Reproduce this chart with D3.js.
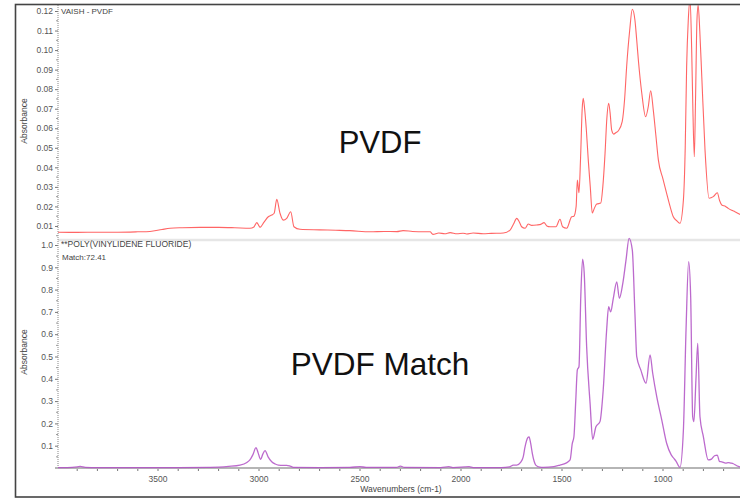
<!DOCTYPE html>
<html>
<head>
<meta charset="utf-8">
<script src="https://cdn.jsdelivr.net/npm/d3@7"></script>
<style>
  html, body { margin: 0; padding: 0; background: #fff; }
  svg { display: block; font-family: "Liberation Sans", Arial, sans-serif; }
</style>
</head>
<body>
<svg id="chart" width="740" height="499"></svg>
<script>
// sample spectrum (VAISH - PVDF), wavenumber in cm-1 / absorbance
var sampleWave = [4000,3900,3800,3700,3600,3540,3480,3440,3380,3292,3200,3120,3045,3025,3011,3000,2995,2975,2954,2937,2925,2912,2896,2880,2863,2843,2827,2797,2700,2620,2550,2450,2380,2318,2287,2240,2190,2153,2139,2110,2080,2054,2020,1990,1972,1940,1890,1850,1790,1757,1740,1724,1710,1700,1683,1667,1650,1625,1605,1589,1575,1559,1530,1510,1497,1477,1452,1441,1430,1424,1416,1408,1400,1395,1388,1380,1370,1360,1350,1340,1328,1308,1298,1287,1278,1269,1262,1254,1244,1234,1221,1202,1190,1180,1165,1152,1139,1130,1122,1105,1086,1073,1061,1048,1035,1023,1000,982,965,949,930,916,899,890,883,875,866,858,853,845,839,832,826,818,808,792,772,751,731,720,709,690,677,660,644,620,600];
var sampleAbs = [0.0068,0.0067,0.0068,0.0068,0.0070,0.0072,0.0082,0.0088,0.0091,0.0093,0.0093,0.0091,0.0088,0.0095,0.0117,0.0100,0.0093,0.0120,0.0147,0.0156,0.0165,0.0236,0.0165,0.0130,0.0139,0.0173,0.0096,0.0083,0.0080,0.0078,0.0076,0.0070,0.0072,0.0071,0.0076,0.0072,0.0070,0.0070,0.0057,0.0064,0.0060,0.0066,0.0060,0.0063,0.0059,0.0064,0.0060,0.0062,0.0064,0.0079,0.0110,0.0139,0.0118,0.0096,0.0088,0.0110,0.0103,0.0105,0.0108,0.0117,0.0100,0.0096,0.0096,0.0134,0.0096,0.0088,0.0147,0.0150,0.0200,0.0335,0.0270,0.0450,0.0700,0.0753,0.0700,0.0600,0.0438,0.0300,0.0166,0.0190,0.0212,0.0217,0.0300,0.0470,0.0650,0.0728,0.0680,0.0590,0.0570,0.0577,0.0587,0.0634,0.0750,0.0915,0.1100,0.1209,0.1154,0.1050,0.0949,0.0779,0.0659,0.0710,0.0792,0.0693,0.0560,0.0438,0.0340,0.0267,0.0200,0.0147,0.0125,0.0114,0.0233,0.0500,0.0915,0.1150,0.1260,0.1000,0.0745,0.0454,0.0745,0.1150,0.1230,0.1100,0.0864,0.0489,0.0242,0.0250,0.0270,0.0230,0.0207,0.0200,0.0190,0.0180,0.0173,0.0160,0.0152];

// library match spectrum (POLY(VINYLIDENE FLUORIDE))
var matchWave = [4000,3950,3900,3885,3860,3800,3600,3400,3250,3200,3150,3094,3060,3045,3030,3015,3005,2992,2982,2970,2955,2937,2920,2904,2880,2863,2845,2830,2700,2550,2500,2470,2320,2300,2280,2100,2060,2040,1960,1940,1800,1760,1741,1724,1705,1692,1683,1670,1663,1655,1647,1638,1630,1610,1593,1540,1510,1480,1460,1449,1441,1432,1424,1416,1407,1398,1390,1378,1361,1348,1332,1312,1296,1279,1269,1259,1246,1229,1216,1199,1183,1168,1152,1139,1130,1110,1084,1064,1051,1031,1006,982,960,946,935,916,899,886,873,863,853,847,837,828,817,800,776,760,745,731,721,709,690,677,665,652,635,619,600];
var matchAbs = [0.002,0.002,0.005,0.007,0.003,0.002,0.002,0.002,0.003,0.004,0.007,0.013,0.025,0.036,0.060,0.091,0.070,0.039,0.060,0.078,0.050,0.028,0.018,0.013,0.012,0.012,0.008,0.003,0.002,0.003,0.006,0.003,0.003,0.008,0.003,0.002,0.006,0.002,0.006,0.002,0.002,0.005,0.013,0.013,0.025,0.050,0.095,0.135,0.140,0.110,0.066,0.030,0.013,0.004,0.003,0.006,0.013,0.022,0.036,0.110,0.140,0.300,0.440,0.454,0.768,0.936,0.873,0.544,0.290,0.129,0.185,0.208,0.350,0.619,0.723,0.700,0.761,0.835,0.761,0.828,0.933,1.030,0.978,0.694,0.499,0.440,0.380,0.507,0.425,0.320,0.215,0.111,0.060,0.043,0.030,0.003,0.170,0.619,0.925,0.768,0.230,0.208,0.395,0.559,0.230,0.140,0.036,0.040,0.055,0.058,0.030,0.028,0.022,0.024,0.022,0.019,0.010,0.005,0.003];

var xTicks = [3500,3000,2500,2000,1500,1000];
var topTicks = [0.01,0.02,0.03,0.04,0.05,0.06,0.07,0.08,0.09,0.10,0.11,0.12];
var bottomTicks = [0.1,0.2,0.3,0.4,0.5,0.6,0.7,0.8,0.9,1.0];

var width = 740, height = 499;
var left = 58, right = 740;

var x = d3.scaleLinear().domain([4000, 600]).range([57, 743.8]);
var yTop = d3.scaleLinear().domain([0, 0.12]).range([245.5, 11]);
var yBot = d3.scaleLinear().domain([0, 1]).range([468, 245]);

var svg = d3.select("#chart");

svg.append("rect").attr("width", width).attr("height", height).attr("fill", "#fff");

var defs = svg.append("defs");
defs.append("clipPath").attr("id", "clipTop")
  .append("rect").attr("x", left).attr("y", 5).attr("width", right - left).attr("height", 235);
defs.append("clipPath").attr("id", "clipBot")
  .append("rect").attr("x", left).attr("y", 237).attr("width", right - left).attr("height", 232);

// panel divider (x axis of top panel)
svg.append("line")
  .attr("x1", left).attr("x2", right).attr("y1", 240).attr("y2", 240)
  .attr("stroke", "#e6e6e6").attr("stroke-width", 2.5);

// left axes
function drawY(g, y, ticks, fmt, y0, y1) {
  g.attr("transform", `translate(${left},0)`)
    .call(d3.axisLeft(y).tickValues(ticks).tickFormat(fmt).tickSize(3).tickPadding(2));
  g.select(".domain").remove();
  g.append("line").attr("y1", y0).attr("y2", y1)
    .attr("stroke", "#888").attr("stroke-dasharray", "1,1");
  g.selectAll(".tick line").attr("stroke", "#777");
  g.selectAll(".tick text").attr("fill", "#555").attr("font-size", "8.5px")
    .attr("font-family", "Liberation Sans, Arial, sans-serif");
  // minor ticks halfway
  var step = ticks[1] - ticks[0];
  var minors = ticks.map(t => t - step / 2).filter(t => y(t) <= y1 && y(t) >= y0);
  g.selectAll(".minor").data(minors).join("line").attr("class", "minor")
    .attr("x1", -2).attr("x2", 0)
    .attr("y1", d => y(d)).attr("y2", d => y(d))
    .attr("stroke", "#999");
}

svg.append("g").call(g => drawY(g, yTop, topTicks, d3.format(".2f"), 5, 240));
svg.append("g").call(g => drawY(g, yBot, bottomTicks, d3.format(".1f"), 241, 468));

// bottom x axis
var xa = svg.append("g").attr("transform", "translate(0,468)");
xa.append("line").attr("x1", 55).attr("x2", right).attr("stroke", "#b5b5b5").attr("stroke-width", 2);
xa.selectAll(".minor").data(d3.range(3900, 600, -100)).join("line")
  .attr("class", "minor")
  .attr("x1", d => x(d)).attr("x2", d => x(d)).attr("y1", 1).attr("y2", 3)
  .attr("stroke", "#777");
xa.selectAll("text").data(xTicks).join("text")
  .attr("x", d => x(d)).attr("y", 14)
  .attr("text-anchor", "middle").attr("font-size", "8.5px").attr("fill", "#555")
  .text(d => d);

// spectra
var line = y => d3.line().x(d => x(d[0])).y(d => y(d[1])).curve(d3.curveMonotoneX);

svg.append("path")
  .datum(sampleWave.map((w, i) => [w, sampleAbs[i]]))
  .attr("clip-path", "url(#clipTop)")
  .attr("fill", "none").attr("stroke", "#ff4a4a").attr("stroke-opacity", 0.85)
  .attr("stroke-width", 1.1)
  .attr("d", line(yTop));

svg.append("path")
  .datum(matchWave.map((w, i) => [w, matchAbs[i]]))
  .attr("clip-path", "url(#clipBot)")
  .attr("fill", "none").attr("stroke", "#b050c4").attr("stroke-opacity", 0.85)
  .attr("stroke-width", 1.3)
  .attr("d", line(yBot));

// labels
var small = "#444";
svg.append("text").attr("x", 61).attr("y", 14).attr("font-size", "8px").attr("fill", small).text("VAISH - PVDF");
svg.append("text").attr("x", 61).attr("y", 247).attr("font-size", "8.5px").attr("fill", small).text("**POLY(VINYLIDENE FLUORIDE)");
svg.append("text").attr("x", 62).attr("y", 260).attr("font-size", "8px").attr("fill", small).text("Match:72.41");

svg.selectAll(".ylab").data([121, 352]).join("text")
  .attr("class", "ylab")
  .attr("transform", d => `translate(27,${d}) rotate(-90)`)
  .attr("text-anchor", "middle").attr("font-size", "8.5px").attr("fill", small)
  .text("Absorbance");

svg.append("text").attr("x", 401).attr("y", 492).attr("text-anchor", "middle")
  .attr("font-size", "8.5px").attr("fill", small).text("Wavenumbers (cm-1)");

svg.append("text").attr("x", 380).attr("y", 153).attr("text-anchor", "middle")
  .attr("font-size", "31px").attr("fill", "#111").text("PVDF");
svg.append("text").attr("x", 380).attr("y", 375).attr("text-anchor", "middle")
  .attr("font-size", "31.5px").attr("fill", "#111").text("PVDF Match");

// outer frame
svg.append("rect").attr("x", 15.5).attr("y", 4.5).attr("width", 740).attr("height", 492.5)
  .attr("fill", "none").attr("stroke", "#444").attr("stroke-width", 1.6);
</script>
</body>
</html>
